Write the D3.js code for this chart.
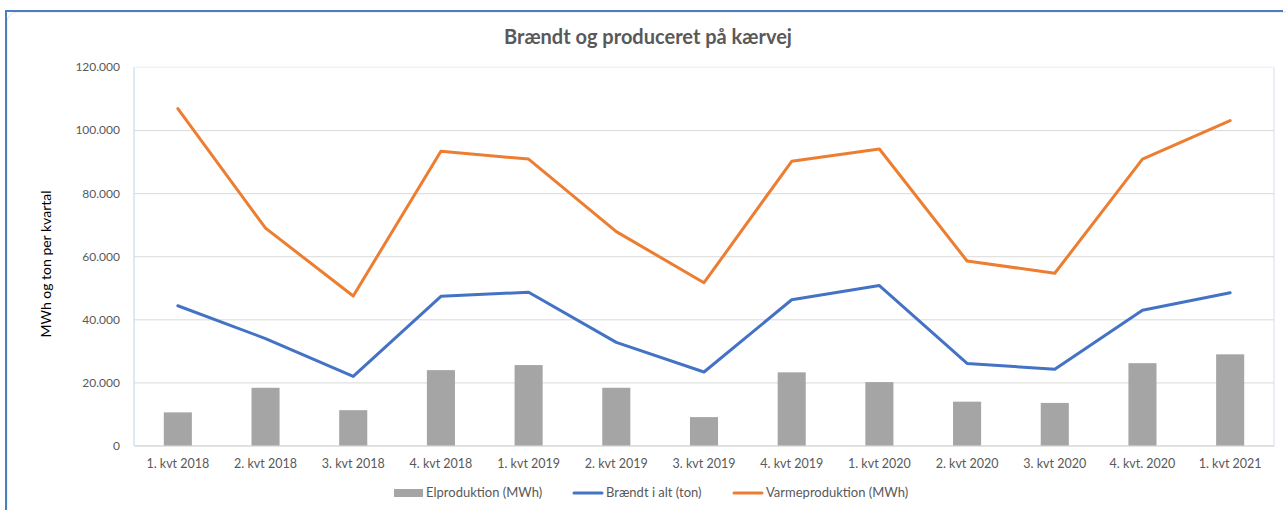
<!DOCTYPE html>
<html>
<head>
<meta charset="utf-8">
<script src="https://cdn.jsdelivr.net/npm/d3@7"></script>
<style>
  body { margin: 0; background: #fff; }
  text { font-family: Lato, "Open Sans", sans-serif; }
</style>
</head>
<body>
<div id="chart"></div>
<script>
// Chart data
var quarters = ["1. kvt 2018", "2. kvt 2018", "3. kvt 2018", "4. kvt 2018",
  "1. kvt 2019", "2. kvt 2019", "3. kvt 2019", "4. kvt 2019",
  "1. kvt 2020", "2. kvt 2020", "3. kvt 2020", "4. kvt. 2020", "1. kvt 2021"];
var elproduktion = [10500, 18300, 11200, 23900, 25500, 18300, 9000, 23200, 20100, 13900, 13500, 26100, 28900];
var braendt = [44300, 33900, 21900, 47300, 48600, 32700, 23300, 46200, 50700, 26000, 24200, 42900, 48400];
var varme = [106800, 68900, 47400, 93300, 90800, 67800, 51600, 90100, 94000, 58500, 54600, 90800, 103000];
var yTicks = [0, 20000, 40000, 60000, 80000, 100000, 120000];

var svgWidth = 1286;
var svgHeight = 510;

var margin = { top: 67, right: 12, bottom: 65, left: 134 };
var width = 1274 - margin.left;
var height = 445.5 - margin.top;

var svg = d3.select("#chart")
  .append("svg")
  .attr("width", svgWidth)
  .attr("height", svgHeight);

// Chart frame (selected Excel chart look)
svg.append("rect")
  .attr("x", 7).attr("y", 12)
  .attr("width", 1290).attr("height", 520)
  .attr("rx", 10)
  .attr("fill", "#fff")
  .attr("stroke", "#e3e3e3");
svg.append("line")
  .attr("x1", 5).attr("x2", 1283).attr("y1", 11).attr("y2", 11)
  .attr("stroke", "#4a7ebf").attr("stroke-width", 2);
svg.append("line")
  .attr("x1", 6).attr("x2", 6).attr("y1", 10).attr("y2", 510)
  .attr("stroke", "#4a7ebf").attr("stroke-width", 2);

var chartGroup = svg.append("g")
  .attr("transform", `translate(${margin.left}, ${margin.top})`);

var xScale = d3.scaleBand()
  .domain(quarters)
  .range([0, width])
  .padding(0);

var yScale = d3.scaleLinear()
  .domain([0, 120000])
  .range([height, 0]);

var fmt = function(d) {
  return d === 0 ? "0" : d3.format(",.0f")(d).replace(/,/g, ".");
};

// plot area outline
chartGroup.append("rect")
  .attr("x", 0).attr("y", 0)
  .attr("width", width).attr("height", height)
  .attr("fill", "none")
  .attr("stroke", "#f0f3fb");
chartGroup.append("line")
  .attr("x1", 0).attr("x2", 0).attr("y1", 0).attr("y2", height)
  .attr("stroke", "#c9d7f0");
chartGroup.append("line")
  .attr("x1", width).attr("x2", width).attr("y1", 0).attr("y2", height)
  .attr("stroke", "#dbe4f5");

// Gridlines + y labels
var leftAxis = d3.axisLeft(yScale)
  .tickValues(yTicks)
  .tickSize(-width)
  .tickPadding(14)
  .tickFormat(fmt);

var yAxisG = chartGroup.append("g").call(leftAxis);
yAxisG.select(".domain").remove();
yAxisG.selectAll(".tick line")
  .attr("stroke", "#d9d9d9")
  .attr("stroke-width", 1)
  .attr("x1", 0)
  .attr("x2", width);
yAxisG.selectAll(".tick").filter(d => d === 120000).select("line").attr("stroke", "#f0f2f8");
yAxisG.selectAll("text")
  .attr("fill", "#595959")
  .attr("font-size", "12px")
  .attr("font-family", "Lato, sans-serif");

// x axis
var bottomAxis = d3.axisBottom(xScale).tickSize(0).tickPadding(14);
var xAxisG = chartGroup.append("g")
  .attr("transform", `translate(0, ${height})`)
  .call(bottomAxis);
xAxisG.select(".domain").attr("stroke", "#d9d9d9");
xAxisG.selectAll("text")
  .attr("fill", "#595959")
  .attr("font-size", "12.5px")
  .attr("font-family", "Lato, sans-serif");

// Bars
var barW = xScale.bandwidth() * 0.32;
chartGroup.selectAll("rect.bar")
  .data(elproduktion)
  .enter()
  .append("rect")
  .attr("class", "bar")
  .attr("x", (d, i) => xScale(quarters[i]) + xScale.bandwidth() / 2 - barW / 2)
  .attr("y", d => yScale(d))
  .attr("width", barW)
  .attr("height", d => height - yScale(d))
  .attr("fill", "#a5a5a5");

// Lines
var line = d3.line()
  .x((d, i) => xScale(quarters[i]) + xScale.bandwidth() / 2)
  .y(d => yScale(d));

chartGroup.append("path")
  .datum(braendt)
  .attr("d", line)
  .attr("fill", "none")
  .attr("stroke", "#4472c4")
  .attr("stroke-width", 3)
  .attr("stroke-linecap", "round")
  .attr("stroke-linejoin", "round");

chartGroup.append("path")
  .datum(varme)
  .attr("d", line)
  .attr("fill", "none")
  .attr("stroke", "#ed7d31")
  .attr("stroke-width", 3)
  .attr("stroke-linecap", "round")
  .attr("stroke-linejoin", "round");

// Title
svg.append("text")
  .attr("x", 648)
  .attr("y", 44)
  .attr("text-anchor", "middle")
  .attr("font-size", "20px")
  .attr("font-weight", "bold")
  .attr("fill", "#595959")
  .text("Brændt og produceret på kærvej");

// Y axis title
svg.append("text")
  .attr("transform", "translate(51, 264) rotate(-90)")
  .attr("text-anchor", "middle")
  .attr("font-size", "14px")
  .attr("fill", "#000")
  .text("MWh og ton per kvartal");

// Legend
var legend = svg.append("g");
legend.append("rect")
  .attr("x", 394).attr("y", 489).attr("width", 29).attr("height", 8)
  .attr("fill", "#a5a5a5");
legend.append("text")
  .attr("x", 426).attr("y", 497)
  .attr("font-size", "13px").attr("fill", "#595959")
  .text("Elproduktion (MWh)");
legend.append("line")
  .attr("x1", 574).attr("x2", 602).attr("y1", 493).attr("y2", 493)
  .attr("stroke", "#4472c4").attr("stroke-width", 3).attr("stroke-linecap", "round");
legend.append("text")
  .attr("x", 606).attr("y", 497)
  .attr("font-size", "13px").attr("fill", "#595959")
  .text("Brændt i alt (ton)");
legend.append("line")
  .attr("x1", 734).attr("x2", 762).attr("y1", 493).attr("y2", 493)
  .attr("stroke", "#ed7d31").attr("stroke-width", 3).attr("stroke-linecap", "round");
legend.append("text")
  .attr("x", 766).attr("y", 497)
  .attr("font-size", "13px").attr("fill", "#595959")
  .text("Varmeproduktion (MWh)");
</script>
</body>
</html>
